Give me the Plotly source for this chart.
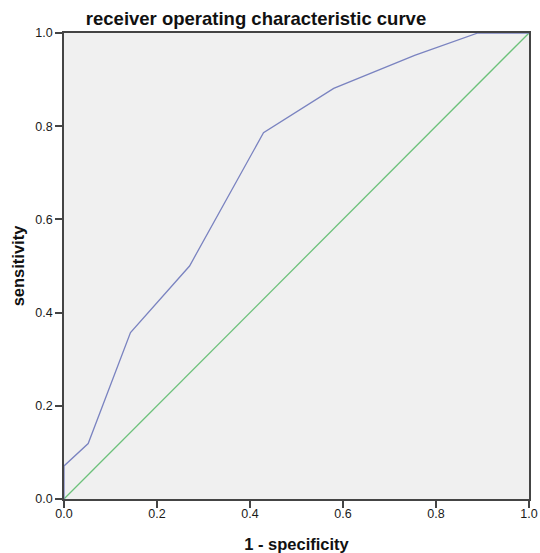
import plotly.graph_objects as go

fpr = [0.0, 0.0, 0.052, 0.143, 0.27, 0.429, 0.58, 0.754, 0.89, 1.0]
tpr = [0.0, 0.071, 0.119, 0.357, 0.5, 0.786, 0.881, 0.952, 1.0, 1.0]
ref_x = [0.0, 1.0]
ref_y = [0.0, 1.0]
tick_vals = [0.0, 0.2, 0.4, 0.6, 0.8, 1.0]
tick_text = ["0.0", "0.2", "0.4", "0.6", "0.8", "1.0"]

W, H = 540, 553

fig = go.Figure()
fig.add_trace(go.Scatter(x=ref_x, y=ref_y, mode="lines",
                         line=dict(color="#6cc17a", width=1.3), showlegend=False, cliponaxis=False))
fig.add_trace(go.Scatter(x=fpr, y=tpr, mode="lines",
                         line=dict(color="#7a83c0", width=1.3), showlegend=False, cliponaxis=False))

axis_common = dict(range=[0, 1], tickvals=tick_vals, ticktext=tick_text,
                   ticks="outside", ticklen=7, tickwidth=1.5, tickcolor="#444",
                   showline=True, linecolor="#444", linewidth=1.5, mirror=True,
                   showgrid=False, zeroline=False, automargin=False,
                   tickfont=dict(family="Liberation Sans, Arial", size=12.5, color="#1a1a1a"))

fig.update_layout(
    width=W, height=H,
    margin=dict(l=64, r=11, t=33, b=54),
    paper_bgcolor="white", plot_bgcolor="#f0f0f0",
    title=dict(text="<b>receiver operating characteristic curve</b>",
               x=256/W, xanchor="center", y=1 - 19/H, yanchor="middle",
               font=dict(family="Liberation Sans, Arial", size=18.5, color="#111")),
    xaxis=dict(**axis_common, ticklabelstandoff=-5,
               title=dict(text="<b>1 - specificity</b>", standoff=21,
                          font=dict(family="Liberation Sans, Arial", size=16.5, color="#111"))),
    yaxis=dict(**axis_common,
               title=dict(text="<b>sensitivity</b>", standoff=7,
                          font=dict(family="Liberation Sans, Arial", size=16.5, color="#111"))),
)

fig.write_html(
    "out.html",
    config={"displayModeBar": False},
    post_script="document.body.style.margin='0';document.body.style.overflow='hidden';",
)
